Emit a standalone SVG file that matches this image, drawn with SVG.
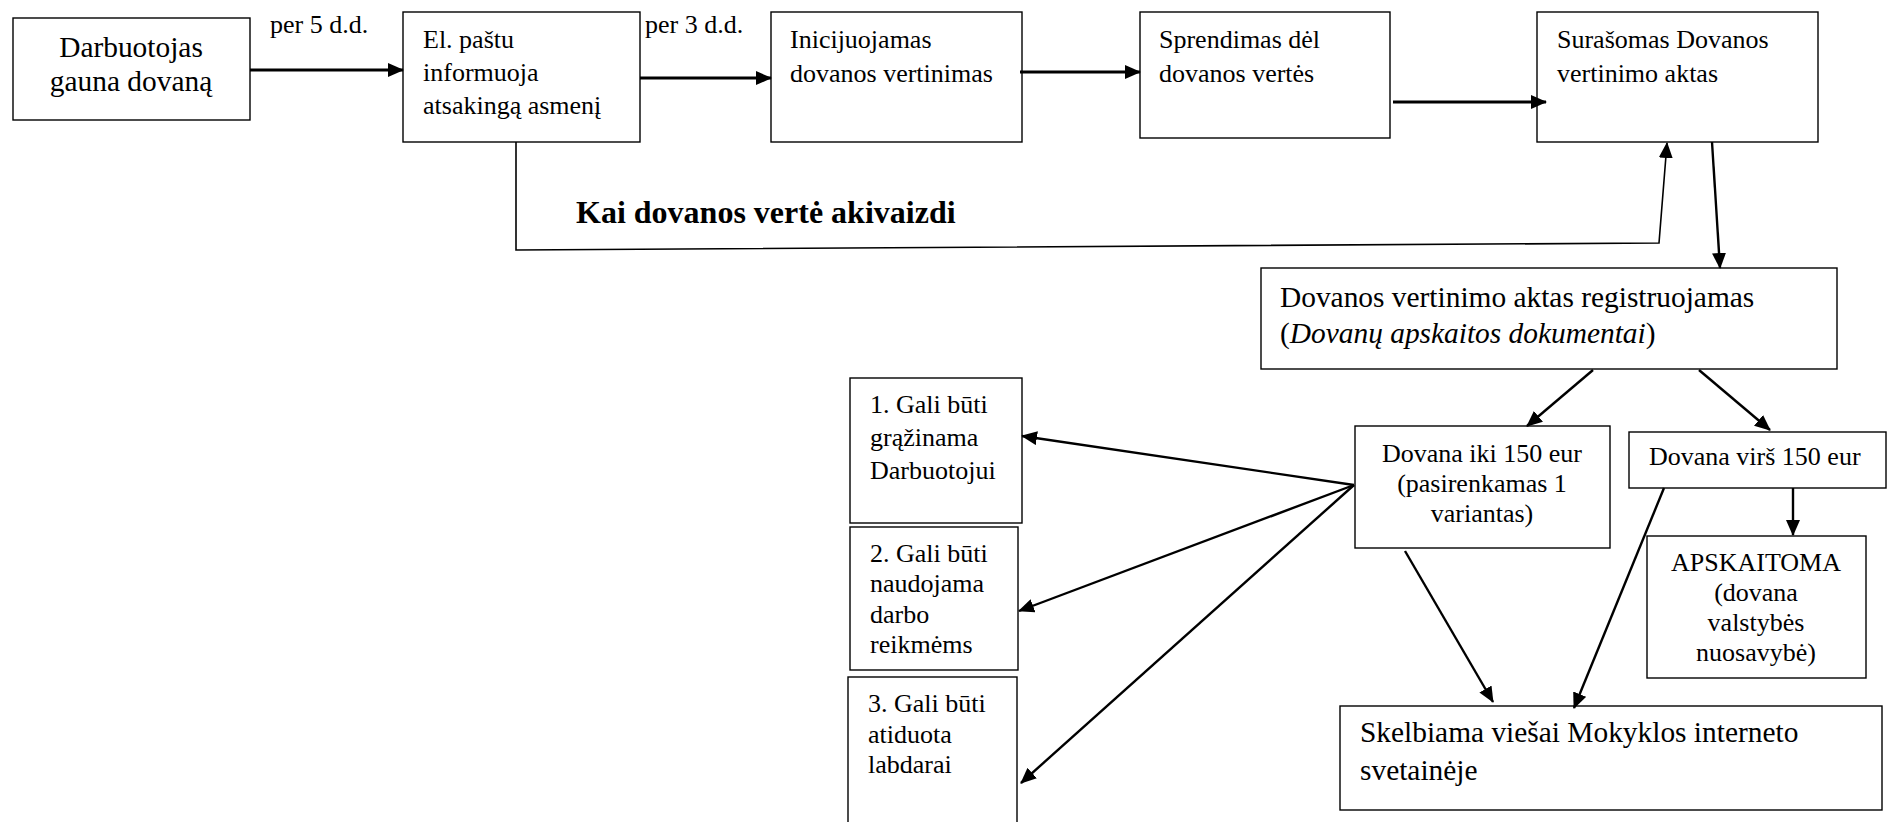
<svg xmlns="http://www.w3.org/2000/svg" width="1888" height="822" viewBox="0 0 1888 822">
<style>
  .box{fill:#fff;stroke:#000;stroke-width:1.4}
  text{font-family:"Liberation Serif","Times New Roman",serif;fill:#000}
  .s{font-size:26px}
  .l{font-size:29.4px}
  .b{font-size:32px;font-weight:bold}
  .c{text-anchor:middle}
  .a3{stroke:#000;stroke-width:3;fill:none}
  .a2{stroke:#000;stroke-width:2.4;fill:none}
  .a1{stroke:#000;stroke-width:1.6;fill:none}
</style>
<defs>
  <marker id="ah" markerUnits="userSpaceOnUse" markerWidth="16" markerHeight="14" refX="15" refY="7" orient="auto">
    <path d="M0,0 L16,7 L0,14 z" fill="#000"/>
  </marker>
</defs>
<rect width="1888" height="822" fill="#fff"/>

<g id="n1"><rect class="box" x="13" y="18" width="237" height="102"/>
<text class="l c" x="131" y="57">Darbuotojas</text><text class="l c" x="131" y="91">gauna dovaną</text></g>

<g id="n2"><rect class="box" x="403" y="12" width="237" height="130"/>
<text class="s" x="423" y="48">El. paštu</text><text class="s" x="423" y="81">informuoja</text><text class="s" x="423" y="114">atsakingą asmenį</text></g>

<g id="n3"><rect class="box" x="771" y="12" width="251" height="130"/>
<text class="s" x="790" y="48">Inicijuojamas</text><text class="s" x="790" y="82">dovanos vertinimas</text></g>

<g id="n4"><rect class="box" x="1140" y="12" width="250" height="126"/>
<text class="s" x="1159" y="48">Sprendimas dėl</text><text class="s" x="1159" y="82">dovanos vertės</text></g>

<g id="n5"><rect class="box" x="1537" y="12" width="281" height="130"/>
<text class="s" x="1557" y="48">Surašomas Dovanos</text><text class="s" x="1557" y="82">vertinimo aktas</text></g>

<g id="n6"><rect class="box" x="1261" y="268" width="576" height="101"/>
<text class="l" x="1280" y="307">Dovanos vertinimo aktas registruojamas</text>
<text class="l" x="1280" y="343">(<tspan font-style="italic">Dovanų apskaitos dokumentai</tspan>)</text></g>

<g id="n7"><rect class="box" x="1355" y="426" width="255" height="122"/>
<text class="s c" x="1482" y="462">Dovana iki 150 eur</text><text class="s c" x="1482" y="492">(pasirenkamas 1</text><text class="s c" x="1482" y="522">variantas)</text></g>

<g id="n8"><rect class="box" x="1629" y="432" width="257" height="56"/>
<text class="s" x="1649" y="465">Dovana virš 150 eur</text></g>

<g id="n9"><rect class="box" x="1647" y="536" width="219" height="142"/>
<text class="s c" x="1756" y="571">APSKAITOMA</text><text class="s c" x="1756" y="601">(dovana</text><text class="s c" x="1756" y="631">valstybės</text><text class="s c" x="1756" y="661">nuosavybė)</text></g>

<g id="n10"><rect class="box" x="1340" y="706" width="542" height="104"/>
<text class="l" x="1360" y="742">Skelbiama viešai Mokyklos interneto</text><text class="l" x="1360" y="780">svetainėje</text></g>

<g id="n11"><rect class="box" x="850" y="378" width="172" height="145"/>
<text class="s" x="870" y="413">1. Gali būti</text><text class="s" x="870" y="446">grąžinama</text><text class="s" x="870" y="479">Darbuotojui</text></g>

<g id="n12"><rect class="box" x="850" y="527" width="168" height="143"/>
<text class="s" x="870" y="562">2. Gali būti</text><text class="s" x="870" y="592">naudojama</text><text class="s" x="870" y="623">darbo</text><text class="s" x="870" y="653">reikmėms</text></g>

<g id="n13"><rect class="box" x="848" y="677" width="169" height="170"/>
<text class="s" x="868" y="712">3. Gali būti</text><text class="s" x="868" y="743">atiduota</text><text class="s" x="868" y="773">labdarai</text></g>

<g id="labels">
<text class="s" x="270" y="33">per 5 d.d.</text>
<text class="s" x="645" y="33">per 3 d.d.</text>
<text class="b" x="576" y="223">Kai dovanos vertė akivaizdi</text>
</g>

<g id="connectors">
<line class="a3" x1="250" y1="70" x2="403" y2="70" marker-end="url(#ah)"/>
<line class="a3" x1="640" y1="78" x2="771" y2="78" marker-end="url(#ah)"/>
<line class="a3" x1="1020" y1="72" x2="1140" y2="72" marker-end="url(#ah)"/>
<line class="a3" x1="1393" y1="102" x2="1546" y2="102" marker-end="url(#ah)"/>
<polyline class="a1" points="516,142 516,250 1659,243 1667,143" marker-end="url(#ah)"/>
<line class="a2" x1="1712" y1="142" x2="1720" y2="268" marker-end="url(#ah)"/>
<line class="a2" x1="1593" y1="370" x2="1527" y2="426" marker-end="url(#ah)"/>
<line class="a2" x1="1699" y1="370" x2="1770" y2="430" marker-end="url(#ah)"/>
<line class="a2" x1="1793" y1="488" x2="1793" y2="535" marker-end="url(#ah)"/>
<line class="a2" x1="1354" y1="485" x2="1022" y2="436" marker-end="url(#ah)"/>
<line class="a2" x1="1354" y1="485" x2="1019" y2="611" marker-end="url(#ah)"/>
<line class="a2" x1="1354" y1="485" x2="1021" y2="783" marker-end="url(#ah)"/>
<line class="a2" x1="1405" y1="551" x2="1493" y2="702" marker-end="url(#ah)"/>
<line class="a2" x1="1664" y1="488" x2="1574" y2="708" marker-end="url(#ah)"/>
</g>
</svg>
